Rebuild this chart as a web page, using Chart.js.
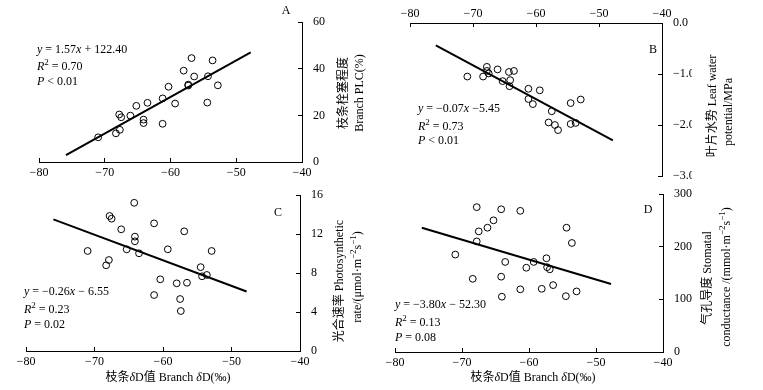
<!DOCTYPE html>
<html>
<head>
<meta charset="utf-8">
<script src="https://cdn.jsdelivr.net/npm/chart.js@4"></script>
<style>
  html, body { margin: 0; padding: 0; background: #fff; }
  #wrap { position: relative; width: 763px; height: 390px; overflow: hidden; }
  canvas { position: absolute; left: 0; top: 0; }
</style>
</head>
<body>
<div id="wrap">
  <canvas id="cA" width="763" height="390"></canvas>
  <canvas id="cB" width="763" height="390"></canvas>
  <canvas id="cC" width="763" height="390"></canvas>
  <canvas id="cD" width="763" height="390"></canvas>
</div>
<script>
// ---------------- data ----------------
const xTicksBranchDD = [-80, -70, -60, -50, -40];

// Panel A: branch dD vs branch PLC (%)
const xA = [-71.0, -68.3, -67.7, -67.8, -67.5, -66.1, -65.2, -64.1, -64.1, -63.5, -61.2, -61.2, -60.3, -59.3, -58.0, -57.3, -57.3, -56.8, -56.4, -54.3, -54.4, -53.6, -52.8];
const yA = [10.6, 12.3, 13.8, 20.4, 19.2, 19.9, 24.1, 18.2, 16.7, 25.4, 27.3, 16.4, 32.3, 25.1, 39.2, 32.8, 33.2, 44.6, 36.7, 36.8, 25.5, 43.6, 32.9];
const fitXA = [-75.9, -47.8];
const fitYA = [2.9, 47.1];

// Panel B: branch dD vs leaf water potential (MPa)
const xB = [-70.9, -68.4, -67.8, -67.8, -67.5, -66.1, -65.3, -64.3, -64.1, -64.2, -63.5, -61.2, -61.2, -60.5, -59.4, -58.0, -57.5, -57.0, -56.5, -54.5, -54.5, -53.7, -52.9];
const yB = [-1.05, -1.05, -0.86, -0.94, -0.99, -0.91, -1.14, -0.96, -1.12, -1.24, -0.94, -1.29, -1.49, -1.59, -1.32, -1.95, -1.73, -2.0, -2.1, -1.57, -1.98, -1.96, -1.50];
const fitXB = [-75.9, -47.8];
const fitYB = [-0.44, -2.30];

// Panel C: branch dD vs photosynthetic rate
const xC = [-71.0, -68.3, -67.9, -67.8, -67.5, -66.1, -65.3, -64.2, -64.1, -64.1, -63.5, -61.3, -61.3, -60.4, -59.3, -58.0, -57.5, -57.4, -56.9, -56.5, -54.5, -54.3, -53.6, -52.9];
const yC = [10.26, 8.79, 9.33, 13.85, 13.57, 12.48, 10.43, 15.2, 11.73, 11.25, 10.02, 13.09, 5.74, 7.35, 10.43, 6.94, 5.33, 4.10, 12.27, 7.0, 8.6, 7.66, 7.8, 10.26];
const fitXC = [-76.0, -47.8];
const fitYC = [13.5, 6.1];

// Panel D: branch dD vs stomatal conductance
const xD = [-71.0, -68.4, -67.8, -67.8, -67.5, -66.2, -65.3, -64.15, -64.15, -64.05, -63.55, -61.3, -61.3, -60.4, -59.3, -58.1, -57.4, -57.3, -56.9, -56.4, -54.5, -54.4, -53.6, -52.9];
const yD = [185, 139, 275, 210, 229, 236, 250, 271, 143, 105, 171, 268, 119, 160, 171, 120, 178, 161, 157, 127, 106, 236, 207, 115];
const fitXD = [-76.0, -47.75];
const fitYD = [236, 129];

// Text
const eqA = ["*y* = 1.57*x* + 122.40", "*R*^2^ = 0.70", "*P* < 0.01"];
const eqB = ["*y* = −0.07*x* −5.45", "*R*^2^ = 0.73", "*P* < 0.01"];
const eqC = ["*y* = −0.26*x* − 6.55", "*R*^2^ = 0.23", "*P* = 0.02"];
const eqD = ["*y* = −3.80*x* − 52.30", "*R*^2^ = 0.13", "*P* = 0.08"];
const titleA = ["枝条栓塞程度", "Branch PLC(%)"];
const titleB = ["叶片水势 Leaf water", "potential/MPa"];
const titleC = ["光合速率 Photosynthetic", "rate/(μmol·m^−2^s^−1^)"];
const titleD = ["气孔导度 Stomatal", "conductance /(mmol·m^−2^s^−1^)"];
const xTitle = "枝条*δ*D值 Branch *δ*D(‰)";
const panelLetters = ["A", "B", "C", "D"];

// ---------------- helpers ----------------
const FAM = '"Liberation Serif", "Times New Roman", "Noto Sans CJK SC", serif';
function parseRich(str) {
  const segs = []; let it = false, sup = false, cur = '';
  for (const ch of str) {
    if (ch === '*' || ch === '^') {
      if (cur) segs.push({ t: cur, it, sup }); cur = '';
      if (ch === '*') it = !it; else sup = !sup;
    } else cur += ch;
  }
  if (cur) segs.push({ t: cur, it, sup });
  return segs;
}
function fontFor(s, size) {
  return (s.it ? 'italic ' : '') + (s.sup ? Math.round(size * 0.72) : size) + 'px ' + FAM;
}
function drawRich(ctx, str, x, y, align, rot, size) {
  const segs = parseRich(str);
  ctx.save();
  ctx.translate(x, y);
  ctx.rotate(rot || 0);
  ctx.fillStyle = '#000';
  ctx.textBaseline = 'middle';
  ctx.textAlign = 'left';
  let total = 0;
  const ws = segs.map(s => { ctx.font = fontFor(s, size); const w = ctx.measureText(s.t).width; total += w; return w; });
  let cx = align === 'center' ? -total / 2 : 0;
  segs.forEach((s, i) => {
    ctx.font = fontFor(s, size);
    ctx.fillText(s.t, cx, s.sup ? -size * 0.38 : 0);
    cx += ws[i];
  });
  ctx.restore();
}
const richTextPlugin = {
  id: 'richText',
  afterDraw(chart, args, opts) {
    const ctx = chart.ctx;
    (opts.items || []).forEach(it => drawRich(ctx, it.text, it.x, it.y, it.align || 'left', it.rot || 0, it.size || 12));
  }
};
Chart.register(richTextPlugin);

const minus = v => String(v).replace('-', '−');
const AXW = 30, AXH = 20;
const W = 763, H = 390;

function makeChart(id, cfg) {
  const a = cfg.area; // chart area
  const tickFont = { family: FAM, size: 12 };
  const grid = { display: true, drawOnChartArea: false, drawTicks: true, tickLength: -4, color: '#000', lineWidth: 1 };
  const border = { display: true, color: '#000', width: 1 };
  const xTop = cfg.xPos === 'top';
  return new Chart(document.getElementById(id), {
    type: 'scatter',
    data: {
      datasets: [
        {
          type: 'line',
          data: cfg.fx.map((v, i) => ({ x: v, y: cfg.fy[i] })),
          borderColor: '#000', borderWidth: 2, pointRadius: 0, fill: false, tension: 0
        },
        {
          type: 'scatter',
          data: cfg.xs.map((v, i) => ({ x: v, y: cfg.ys[i] })),
          pointStyle: 'circle', pointRadius: 3.4, borderWidth: 1,
          borderColor: '#000', backgroundColor: 'rgba(255,255,255,0)'
        }
      ]
    },
    options: {
      responsive: false, animation: false, devicePixelRatio: 1,
      layout: {
        padding: {
          left: a.left,
          right: W - a.right - AXW,
          top: xTop ? a.top - AXH : a.top,
          bottom: xTop ? H - a.bottom : H - a.bottom - AXH
        }
      },
      plugins: {
        legend: { display: false }, tooltip: { enabled: false },
        richText: { items: cfg.texts }
      },
      scales: {
        x: {
          type: 'linear', position: cfg.xPos, min: -80, max: -40,
          afterBuildTicks: s => { s.ticks = xTicksBranchDD.map(v => ({ value: v })); },
          afterFit: s => { s.height = AXH; },
          grid, border,
          ticks: { font: tickFont, color: '#000', padding: xTop ? 6 : 8, maxRotation: 0, callback: v => minus(v) }
        },
        y: {
          type: 'linear', position: 'right', min: cfg.ymin, max: cfg.ymax,
          afterFit: s => { s.width = AXW; },
          grid, border,
          ticks: { font: tickFont, color: '#000', padding: 15, stepSize: cfg.ystep, callback: cfg.yfmt }
        }
      }
    }
  });
}

function eqItems(lines, x, ys) {
  return lines.map((t, i) => ({ text: t, x: x, y: ys[i], size: 12 }));
}
function titleItems(lines, xs, ys) {
  return lines.map((t, i) => ({ text: t, x: xs[i], y: ys[i], align: 'center', rot: -Math.PI / 2, size: 12 }));
}

makeChart('cA', {
  area: { left: 39, right: 302, top: 6, bottom: 162 }, xPos: 'bottom',
  xs: xA, ys: yA, fx: fitXA, fy: fitYA, ymin: 0, ymax: 60, ystep: 20, yfmt: v => String(v),
  texts: [
    ...eqItems(eqA, 37, [50, 67, 82]),
    ...titleItems(titleA, [344, 360], [93, 93]),
    { text: panelLetters[0], x: 286, y: 11, align: 'center', size: 12 }
  ]
});
makeChart('cB', {
  area: { left: 410, right: 662, top: 23, bottom: 176 }, xPos: 'top',
  xs: xB, ys: yB, fx: fitXB, fy: fitYB, ymin: -3, ymax: 0, ystep: 1, yfmt: v => minus(Number(v).toFixed(1)),
  texts: [
    ...eqItems(eqB, 418, [109, 127, 141]),
    ...titleItems(titleB, [713, 729], [106, 112]),
    { text: panelLetters[1], x: 653, y: 50, align: 'center', size: 12 }
  ]
});
makeChart('cC', {
  area: { left: 26, right: 300, top: 195, bottom: 351 }, xPos: 'bottom',
  xs: xC, ys: yC, fx: fitXC, fy: fitYC, ymin: 0, ymax: 16, ystep: 4, yfmt: v => String(v),
  texts: [
    ...eqItems(eqC, 24, [292, 310, 325]),
    ...titleItems(titleC, [340, 358], [281, 277]),
    { text: panelLetters[2], x: 278, y: 213, align: 'center', size: 12 },
    { text: xTitle, x: 168, y: 378, align: 'center', size: 12 }
  ]
});
makeChart('cD', {
  area: { left: 395, right: 663, top: 194, bottom: 352 }, xPos: 'bottom',
  xs: xD, ys: yD, fx: fitXD, fy: fitYD, ymin: 0, ymax: 300, ystep: 100, yfmt: v => String(v),
  texts: [
    ...eqItems(eqD, 395, [305, 323, 338]),
    ...titleItems(titleD, [708, 727], [278, 277]),
    { text: panelLetters[3], x: 648, y: 210, align: 'center', size: 12 },
    { text: xTitle, x: 533, y: 378, align: 'center', size: 12 }
  ]
});
</script>
</body>
</html>
